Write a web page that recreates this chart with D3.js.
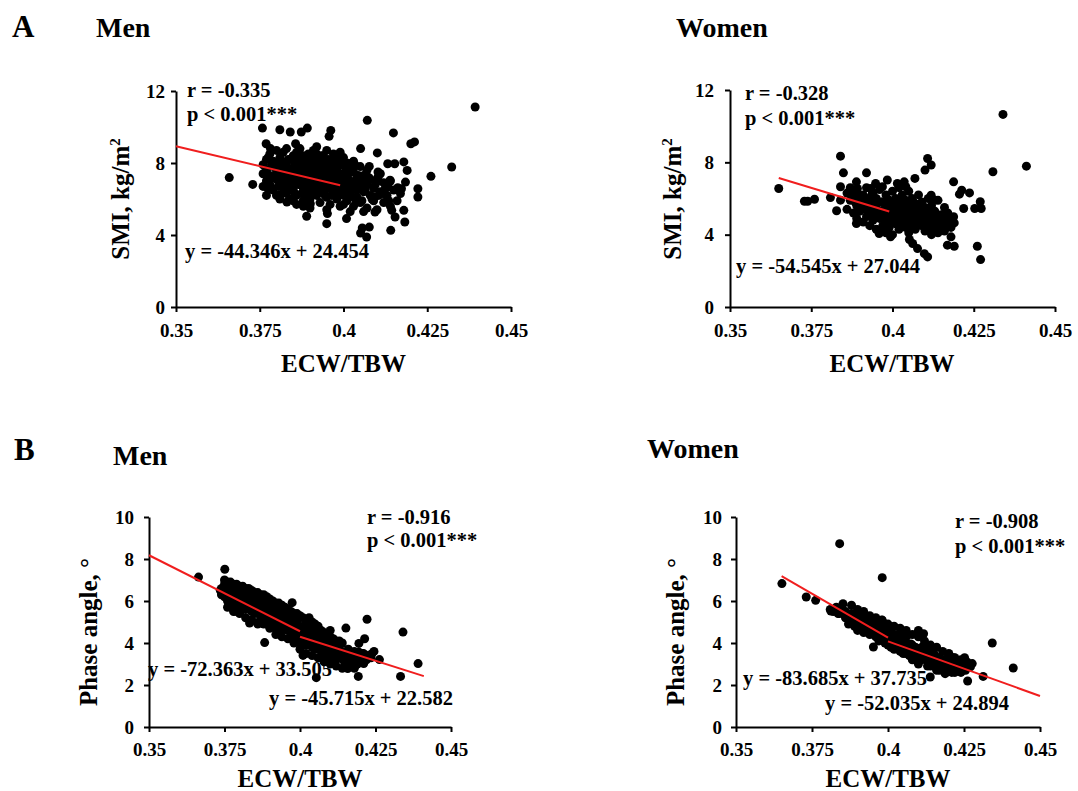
<!DOCTYPE html>
<html>
<head>
<meta charset="utf-8">
<script src="https://cdn.jsdelivr.net/npm/d3@7"></script>
<style>
  body { margin: 0; background: #fff; }
  svg { display: block; }
  text { font-family: "Liberation Serif", "Times New Roman", serif; font-weight: bold; fill: #000; }
</style>
</head>
<body>
<svg id="chart" width="1078" height="791"></svg>
<script>
// ---- data ----------------------------------------------------------------
const xTicks = [0.35, 0.375, 0.4, 0.425, 0.45];
const smiTicks = [0, 4, 8, 12];
const phaseTicks = [0, 2, 4, 6, 8, 10];

// [ECW/TBW, SMI] — men
const menSMI = [
  [0.3659,7.19],[0.3729,6.81],[0.3758,9.94],[0.381,9.85],[0.3841,9.72],[0.3874,9.72],[0.3892,9.94],[0.3957,9.48],
  [0.3962,9.81],[0.4071,10.37],[0.4149,9.67],[0.4201,9.07],[0.4212,9.17],[0.4261,7.26],[0.4323,7.78],[0.4393,11.11],
  [0.3857,9.07],[0.3769,9.07],[0.3782,8.8],[0.4051,8.8],[0.4101,8.56],[0.4132,7.96],[0.4153,7.96],[0.418,8.06],
  [0.419,7.59],[0.4185,6.94],[0.4222,6.57],[0.4222,6.11],[0.4173,6.57],[0.4144,5.37],[0.418,5.37],[0.4154,5.0],
  [0.4183,4.72],[0.4141,4.26],[0.4056,4.39],[0.4077,4.44],[0.4051,4.11],[0.4069,3.89],[0.4094,5.28],[0.4009,4.91],
  [0.395,4.63],[0.389,5.04],[0.3952,5.19],[0.3831,5.83],[0.3901,5.74],[0.381,6.24],[0.3775,6.57],[0.404,6.02],
  [0.4092,6.11],[0.4118,6.3],[0.4133,6.67],[0.4162,6.63],[0.4103,7.22],[0.4035,7.87],[0.4077,7.81],[0.4103,7.5],
  [0.4139,7.04],
  [0.376,7.9],[0.376,7.4],[0.377,8.2],[0.377,7.0],[0.377,7.6],[0.378,6.8],[0.378,8.5],[0.378,7.3],[0.379,7.8],
  [0.379,6.5],[0.379,8.1],[0.380,7.1],[0.380,7.5],[0.380,6.2],[0.381,8.3],[0.381,7.7],[0.381,6.9],[0.381,7.3],
  [0.382,8.0],[0.382,6.6],[0.382,7.2],[0.382,8.6],[0.383,7.5],[0.383,6.3],[0.383,7.9],[0.383,7.0],[0.384,8.2],
  [0.384,6.8],[0.384,7.4],[0.384,6.0],[0.385,7.7],[0.385,8.4],[0.385,7.1],[0.385,6.5],[0.386,7.9],[0.386,7.3],
  [0.386,6.2],[0.386,8.6],[0.387,6.9],[0.387,7.6],[0.387,8.1],[0.387,7.2],[0.388,6.6],[0.388,7.8],[0.388,8.4],
  [0.388,7.0],[0.388,5.9],[0.389,7.4],[0.389,6.3],[0.389,8.0],[0.389,7.7],[0.390,6.8],[0.390,7.2],[0.390,8.3],
  [0.390,6.0],[0.391,7.5],[0.391,6.5],[0.391,7.9],[0.391,7.0],[0.392,8.5],[0.392,6.2],[0.392,7.3],[0.392,6.8],
  [0.393,7.7],[0.393,5.8],[0.393,8.1],[0.393,7.1],[0.394,6.5],[0.394,7.5],[0.394,8.4],[0.394,6.9],[0.395,6.1],
  [0.395,7.8],[0.395,7.2],[0.395,8.7],[0.396,6.6],[0.396,7.4],[0.396,5.7],[0.396,8.0],[0.397,7.0],[0.397,6.3],
  [0.397,7.7],[0.397,6.8],[0.398,8.2],[0.398,6.0],[0.398,7.3],[0.398,7.6],[0.399,6.5],[0.399,7.0],[0.399,5.6],
  [0.399,7.9],[0.400,6.8],[0.400,6.2],[0.400,7.4],[0.400,8.3],[0.401,7.1],[0.401,5.9],[0.401,6.6],[0.402,7.7],
  [0.402,6.3],[0.402,7.0],[0.403,5.6],[0.403,6.8],[0.403,7.5],[0.404,6.1],[0.404,7.2],[0.404,6.5],[0.405,7.8],
  [0.405,5.8],[0.405,6.9],[0.406,6.4],[0.406,7.3],[0.407,5.5],[0.407,6.8],[0.407,7.6],[0.408,6.2],[0.408,7.1],
  [0.409,5.9],[0.409,6.6],[0.410,7.0],[0.410,5.4],[0.411,6.4],[0.411,7.4],[0.412,5.8],[0.412,6.9],[0.413,6.2],
  [0.414,5.6],[0.414,7.0],[0.415,6.5],[0.416,5.9],[0.417,6.3],
  [0.383,8.8],[0.387,8.8],[0.392,8.9],[0.380,8.7],[0.386,5.7],[0.390,5.5],[0.378,7.1],[0.381,6.0],[0.389,6.0],
  [0.393,6.4],[0.396,6.9],[0.391,8.7],[0.397,8.5],[0.394,8.0],[0.385,5.9],[0.401,8.0],[0.403,8.1],[0.399,8.6],
  [0.402,5.3],[0.388,5.6],[0.395,5.4],[0.400,5.7],[0.406,5.3],[0.376,6.7],[0.377,6.2],
  [0.3775,8.3],[0.3785,7.9],[0.3795,7.2],[0.3805,6.7],[0.3805,8.0],[0.3815,7.5],[0.3825,6.9],[0.3825,7.8],
  [0.3835,8.2],[0.3835,6.6],[0.3845,7.6],[0.3845,7.0],[0.3855,8.0],[0.3855,6.3],[0.3855,7.4],[0.3865,6.8],
  [0.3865,8.3],[0.3875,7.4],[0.3875,6.3],[0.3875,7.9],[0.3885,8.1],[0.3885,6.9],[0.3885,7.5],[0.3895,6.5],
  [0.3895,7.2],[0.3895,8.5],[0.3905,7.8],[0.3905,6.3],[0.3905,7.0],[0.3915,8.2],[0.3915,6.7],[0.3915,7.3],
  [0.3925,7.6],[0.3925,6.5],[0.3925,8.0],[0.3935,6.9],[0.3935,7.4],[0.3935,8.4],[0.3945,6.2],[0.3945,7.8],
  [0.3945,7.1],[0.3955,6.6],[0.3955,8.2],[0.3955,7.5],[0.3965,7.0],[0.3965,6.2],[0.3965,7.8],[0.3975,6.5],
  [0.3975,7.3],[0.3975,8.1],[0.3985,6.8],[0.3985,7.1],[0.3985,6.2],[0.3995,7.4],[0.3995,6.7],[0.4005,7.8],
  [0.4005,6.4],[0.4005,7.0],[0.4015,6.1],[0.4015,7.4],[0.4025,6.6],[0.4025,8.0],[0.4035,6.9],[0.4035,6.0],
  [0.4045,7.3],[0.4045,6.7],[0.4055,5.9],[0.4055,7.0],[0.4065,6.5],[0.4075,7.2],[0.4085,6.0],[0.4095,6.8],
  [0.4105,6.2],[0.4125,6.6],[0.4135,5.9]
];

// [ECW/TBW, SMI] — women
const womenSMI = [
  [0.365,6.55],[0.3729,5.85],[0.3739,5.85],[0.376,5.96],[0.3809,6.05],[0.3828,5.32],[0.384,8.34],[0.384,6.65],
  [0.3849,7.42],[0.384,5.91],[0.3889,4.62],[0.392,7.42],[0.4108,8.21],[0.4119,7.85],[0.41,7.57],[0.4069,7.11],
  [0.4188,6.92],[0.4206,6.24],[0.4213,6.46],[0.4237,6.31],[0.4219,5.45],[0.4253,5.45],[0.4273,5.45],[0.427,5.82],
  [0.4309,7.48],[0.434,10.65],[0.4412,7.79],[0.4261,3.36],[0.4271,2.62],[0.4169,3.42],[0.419,3.36],[0.418,3.88],
  [0.4188,4.99],[0.419,4.65],[0.4108,2.77],[0.4098,2.95],[0.4077,3.23],[0.4062,3.51],[0.4052,3.73],[0.3994,3.88],
  [0.3959,4.06],[0.3974,4.25],[0.4131,5.91],[0.4119,6.18],[0.4015,6.83],[0.4041,6.65],[0.4036,6.92],[0.3984,7.02],
  [0.3948,6.83],[0.3969,6.65],[0.3889,6.92],[0.3892,6.55],[0.3871,6.28],[0.3933,6.55],[0.3938,6.28],
  [0.386,6.3],[0.386,5.4],[0.387,5.9],[0.387,6.6],[0.388,5.2],[0.388,6.1],[0.389,5.6],[0.389,6.4],[0.389,4.9],
  [0.390,5.9],[0.390,5.3],[0.391,6.2],[0.391,4.7],[0.391,5.6],[0.392,5.0],[0.392,6.0],[0.392,6.6],[0.393,5.4],
  [0.393,4.5],[0.393,5.8],[0.394,6.3],[0.394,5.1],[0.394,4.8],[0.395,5.6],[0.395,6.0],[0.395,4.3],[0.396,5.3],
  [0.396,6.5],[0.396,4.9],[0.397,5.8],[0.397,4.5],[0.397,5.1],[0.398,6.2],[0.398,5.5],[0.398,4.1],[0.398,4.8],
  [0.399,5.9],[0.399,5.2],[0.399,4.4],[0.400,6.4],[0.400,5.6],[0.400,4.9],[0.400,4.0],[0.401,5.3],[0.401,6.0],
  [0.401,4.6],[0.402,5.8],[0.402,5.0],[0.402,4.3],[0.402,6.6],[0.403,5.5],[0.403,4.7],[0.403,6.2],[0.404,5.2],
  [0.404,4.4],[0.404,5.9],[0.405,4.9],[0.405,5.6],[0.405,6.4],[0.405,4.1],[0.406,5.3],[0.406,4.6],[0.406,6.0],
  [0.407,5.0],[0.407,5.7],[0.407,4.3],[0.408,5.4],[0.408,4.8],[0.408,6.2],[0.409,5.1],[0.409,4.5],[0.409,5.8],
  [0.410,4.2],[0.410,5.5],[0.410,4.9],[0.411,5.2],[0.411,4.6],[0.411,6.0],[0.412,4.0],[0.412,5.0],[0.412,5.6],
  [0.413,4.4],[0.413,5.3],[0.414,4.8],[0.414,5.9],[0.414,4.1],[0.415,5.1],[0.415,4.5],[0.416,5.5],[0.416,4.2],
  [0.417,4.8],[0.417,5.2],[0.418,4.4],[0.418,4.6],
  [0.3885,5.8],[0.3895,6.1],[0.3905,5.5],[0.3915,5.9],[0.3925,5.3],[0.3935,6.1],[0.3945,5.5],[0.3955,5.0],
  [0.3965,5.8],[0.3975,5.4],[0.3985,5.0],[0.3985,5.8],[0.3995,4.7],[0.4005,5.2],[0.4005,5.9],[0.4015,4.8],
  [0.4015,5.5],[0.4025,5.3],[0.4025,4.6],[0.4035,5.9],[0.4035,5.0],[0.4045,4.7],[0.4045,5.5],[0.4055,5.2],
  [0.4055,4.4],[0.4065,5.8],[0.4065,4.9],[0.4075,5.3],[0.4075,4.6],[0.4085,5.1],[0.4085,5.7],[0.4095,4.8],
  [0.4095,5.4],[0.4105,5.0],[0.4115,4.4],[0.4115,5.4],[0.4125,4.7],[0.4135,5.0],[0.4145,4.5],[0.4155,4.9],
  [0.4165,4.6]
];

// [ECW/TBW, phase angle] — men
const menPhase = [
  [0.3664,7.14],[0.3751,7.51],[0.3736,6.51],[0.3974,5.92],[0.3833,4.95],[0.3883,4.02],[0.401,3.41],[0.41,4.6],
  [0.4152,4.71],[0.4222,5.13],[0.4341,4.52],[0.4263,3.21],[0.4391,3.02],[0.4333,2.41],[0.4193,2.41],[0.4054,2.35],
  [0.4214,4.2],[0.4195,3.98],[0.4169,3.17],[0.4158,2.78],[0.4194,3.57],[0.4238,3.49],[0.4211,3.02],[0.3786,5.51],
  [0.3859,4.97],
  [0.374,6.6],[0.374,6.3],[0.375,6.8],[0.375,6.5],[0.375,6.2],[0.376,6.6],[0.376,6.4],[0.376,6.0],[0.377,6.7],
  [0.377,6.3],[0.377,6.1],[0.378,6.5],[0.378,6.2],[0.378,5.8],[0.379,6.6],[0.379,6.0],[0.379,6.3],[0.380,6.4],
  [0.380,5.7],[0.380,6.1],[0.381,6.5],[0.381,5.9],[0.381,6.2],[0.382,6.3],[0.382,5.6],[0.382,6.0],[0.383,6.4],
  [0.383,5.8],[0.383,6.1],[0.384,5.5],[0.384,6.0],[0.384,6.3],[0.385,5.7],[0.385,6.1],[0.385,5.4],[0.386,5.9],
  [0.386,6.2],[0.386,5.5],[0.387,5.7],[0.387,6.0],[0.387,5.2],[0.388,5.8],[0.388,5.4],[0.388,6.1],[0.389,5.6],
  [0.389,5.1],[0.389,5.9],[0.390,5.4],[0.390,5.7],[0.390,5.0],[0.391,5.5],[0.391,5.2],[0.391,5.8],[0.392,5.0],
  [0.392,5.4],[0.392,4.7],[0.393,5.6],[0.393,5.2],[0.393,4.9],[0.394,5.4],[0.394,5.0],[0.394,4.6],[0.395,5.3],
  [0.395,4.8],[0.395,5.5],[0.396,5.0],[0.396,4.6],[0.396,5.3],[0.397,4.8],[0.397,5.1],[0.397,4.4],[0.398,5.0],
  [0.398,4.6],[0.398,4.3],[0.399,4.9],[0.399,4.5],[0.399,5.1],[0.400,4.7],[0.400,4.3],[0.400,4.0],[0.401,4.8],
  [0.401,4.4],[0.401,4.1],[0.402,4.6],[0.402,4.2],[0.402,3.9],[0.403,4.5],[0.403,4.8],[0.403,4.1],[0.404,4.3],
  [0.404,3.8],[0.404,4.6],[0.405,4.0],[0.405,4.4],[0.405,3.7],[0.406,4.2],[0.406,3.9],[0.406,4.5],[0.407,3.6],
  [0.407,4.1],[0.407,3.9],[0.408,4.3],[0.408,3.7],[0.408,3.4],[0.409,4.0],[0.409,3.6],[0.410,3.8],[0.410,3.3],
  [0.410,4.1],[0.411,3.5],[0.411,3.9],[0.412,3.7],[0.412,3.2],[0.413,3.5],[0.413,3.9],[0.414,3.3],[0.414,3.6],
  [0.415,3.0],[0.415,3.5],[0.416,3.7],[0.416,3.2],[0.417,3.4],[0.417,2.9],[0.418,3.6],[0.418,3.2],[0.419,3.4],
  [0.419,3.0],[0.420,3.3],[0.421,3.5],[0.422,3.2],
  [0.375,7.0],[0.376,6.9],[0.377,6.9],[0.378,6.8],[0.379,6.8],[0.380,6.7],[0.381,6.7],[0.382,6.6],[0.383,6.6],
  [0.384,6.5],[0.385,6.4],[0.386,6.4],[0.387,6.3],[0.388,6.3],[0.389,6.2],[0.390,6.1],[0.391,6.0],[0.392,5.9],
  [0.393,5.9],[0.394,5.8],[0.395,5.7],[0.396,5.6],[0.397,5.5],[0.398,5.4],[0.399,5.4],[0.400,5.3],[0.401,5.2],
  [0.402,5.1],[0.403,5.2],[0.404,5.0],[0.405,4.9],[0.406,4.8],[0.407,4.6],[0.408,4.5],[0.409,4.4],[0.410,4.3],
  [0.411,4.2],[0.412,4.1],[0.413,4.1],[0.414,4.0],
  [0.376,5.7],[0.378,5.5],[0.380,5.4],[0.382,5.2],[0.384,5.1],[0.386,4.9],[0.388,4.9],[0.390,4.7],[0.392,4.4],
  [0.394,4.3],[0.396,4.2],[0.398,4.0],[0.400,3.7],[0.402,3.5],[0.404,3.4],[0.406,3.3],[0.408,3.1],[0.410,3.0],
  [0.412,2.9],[0.414,2.8],[0.416,2.9],[0.418,2.8],
  [0.3765,6.45],[0.3785,6.35],[0.3805,6.25],[0.3825,6.15],[0.3845,5.85],[0.3865,5.75],[0.3885,5.6],[0.3905,5.25],
  [0.3925,5.2],[0.3945,4.85],[0.3965,4.95],[0.3985,4.75],[0.4005,4.45],[0.4025,4.35],[0.4045,4.2],[0.4065,3.75],
  [0.4085,3.95],[0.4105,3.55],[0.4125,3.45],[0.4145,3.15],[0.4165,3.45],[0.4185,3.35],[0.4205,3.5],[0.4225,3.4],
  [0.4235,3.3],[0.4245,3.6]
];

// [ECW/TBW, phase angle] — women
const womenPhase = [
  [0.3651,6.83],[0.3731,6.19],[0.3762,6.03],[0.3841,8.73],[0.3981,7.11],[0.3812,5.52],[0.3836,5.4],[0.3852,5.87],
  [0.3952,3.81],[0.4343,4.0],[0.4412,2.81],[0.4313,2.41],[0.4262,2.19],[0.4252,3.3],[0.4277,3.02],[0.4271,2.86],
  [0.41,4.6],[0.4117,4.44],[0.3981,5.08],[0.4216,3.3],[0.4194,3.25],[0.4139,2.38],[0.4188,2.54],
  [0.381,5.6],[0.382,5.5],[0.383,5.7],[0.384,5.4],[0.385,5.6],[0.386,5.2],[0.386,5.5],[0.387,5.3],[0.387,4.9],
  [0.388,5.1],[0.388,5.4],[0.389,4.8],[0.389,5.2],[0.390,5.0],[0.390,4.6],[0.390,5.3],[0.391,4.8],[0.391,5.1],
  [0.392,4.5],[0.392,4.9],[0.392,5.2],[0.393,4.7],[0.393,5.0],[0.394,4.4],[0.394,4.8],[0.395,4.6],[0.395,5.0],
  [0.396,4.3],[0.396,4.7],[0.397,4.5],[0.397,4.1],[0.397,4.9],[0.398,4.3],[0.398,4.6],[0.399,4.0],[0.399,4.4],
  [0.399,4.8],[0.400,4.2],[0.400,4.5],[0.400,3.9],[0.401,4.3],[0.401,4.6],[0.402,4.0],[0.402,4.4],[0.402,3.7],
  [0.403,4.2],[0.403,3.9],[0.404,4.5],[0.404,4.0],[0.404,3.6],[0.405,4.1],[0.405,3.8],[0.406,3.5],[0.406,4.0],
  [0.406,4.3],[0.407,3.7],[0.407,3.4],[0.408,3.9],[0.408,3.6],[0.408,3.2],[0.409,3.5],[0.409,3.8],[0.410,3.3],
  [0.410,3.6],[0.410,3.0],[0.411,3.5],[0.411,3.2],[0.412,3.7],[0.412,3.4],[0.413,3.1],[0.413,3.5],[0.414,3.3],
  [0.414,2.9],[0.415,3.2],[0.415,3.5],[0.416,3.0],[0.416,2.7],[0.417,3.3],[0.417,3.0],[0.418,2.8],[0.418,3.2],
  [0.419,2.9],[0.420,3.1],[0.420,2.7],[0.421,3.3],[0.421,2.9],[0.422,2.6],[0.423,2.9],[0.424,2.6],[0.425,2.8],
  [0.388,5.8],[0.390,5.6],[0.392,5.5],[0.394,5.3],[0.396,5.2],[0.398,5.1],[0.400,4.9],[0.402,4.8],[0.404,4.7],
  [0.406,4.6],[0.408,4.4],[0.410,4.3],[0.412,4.1],[0.414,3.9],[0.416,3.8],[0.418,3.6],[0.420,3.5],[0.422,3.3],
  [0.424,3.2],[0.426,3.1],
  [0.3895,5.35],[0.3915,4.95],[0.3935,4.85],[0.3955,4.75],[0.3975,4.65],[0.3995,4.2],[0.4015,4.0],[0.4035,4.35],
  [0.4055,4.15],[0.4075,3.95],[0.4095,3.75],[0.4115,3.85],[0.4135,3.65],[0.4155,3.4],[0.4175,3.15],[0.4195,3.25],
  [0.4215,3.05],[0.4235,2.95],[0.4255,2.7],
  [0.401,3.8],[0.405,3.5],[0.409,3.2],[0.413,2.9],[0.417,2.7],[0.421,2.6]
];

// regression segments: slope, intercept and the ECW/TBW span each one covers
const menSMIFits = [{ slope: -44.346, intercept: 24.454, from: 0.35, to: 0.399 }];
const womenSMIFits = [{ slope: -54.545, intercept: 27.044, from: 0.365, to: 0.399 }];
const menPhaseFits = [
  { slope: -72.363, intercept: 33.505, from: 0.35, to: 0.4 },
  { slope: -45.715, intercept: 22.582, from: 0.4, to: 0.441 }
];
const womenPhaseFits = [
  { slope: -83.685, intercept: 37.735, from: 0.365, to: 0.4 },
  { slope: -52.035, intercept: 24.894, from: 0.4, to: 0.45 }
];

const correlations = { menSMI: "-0.335", womenSMI: "-0.328", menPhase: "-0.916", womenPhase: "-0.908" };
const pText = "p < 0.001***";

// ---- layout --------------------------------------------------------------
const panels = [
  { points: menSMI, fits: menSMIFits, r: correlations.menSMI, yTicks: smiTicks, yMax: 12, yLabel: "smi",
    title: "Men", titlePos: [96, 37], letter: "A", letterPos: [12, 37],
    left: 176, right: 511, bottom: 307, top: 91, yPad: 6, xPad: 12,
    rPos: [187, 97], pPos: [187, 121], eqPos: [[185, 258]],
    yLabelPos: [129, 199], xLabelPos: [343.5, 372] },
  { points: womenSMI, fits: womenSMIFits, r: correlations.womenSMI, yTicks: smiTicks, yMax: 12, yLabel: "smi",
    title: "Women", titlePos: [676, 37],
    left: 730, right: 1055, bottom: 307, top: 90, yPad: 11, xPad: 12,
    rPos: [745, 100], pPos: [745, 125], eqPos: [[736, 273]],
    yLabelPos: [681, 199], xLabelPos: [892, 372] },
  { points: menPhase, fits: menPhaseFits, r: correlations.menPhase, yTicks: phaseTicks, yMax: 10, yLabel: "phase",
    title: "Men", titlePos: [113, 465], letter: "B", letterPos: [14, 460],
    left: 149, right: 451, bottom: 727, top: 517, yPad: 10, xPad: 11,
    rPos: [367, 524], pPos: [367, 547], eqPos: [[148, 676], [269, 705]],
    yLabelPos: [97, 632], xLabelPos: [300, 787] },
  { points: womenPhase, fits: womenPhaseFits, r: correlations.womenPhase, yTicks: phaseTicks, yMax: 10, yLabel: "phase",
    title: "Women", titlePos: [647, 458],
    left: 736, right: 1040, bottom: 727, top: 517, yPad: 9, xPad: 11,
    rPos: [955, 528], pPos: [955, 553], eqPos: [[743, 685], [825, 710]],
    yLabelPos: [684, 632], xLabelPos: [888, 787] }
];

const svg = d3.select("#chart");
svg.append("rect").attr("width", 1078).attr("height", 791).attr("fill", "#fff");

panels.forEach(p => {
  const x = d3.scaleLinear().domain([0.35, 0.45]).range([p.left, p.right]);
  const y = d3.scaleLinear().domain([0, p.yMax]).range([p.bottom, p.top]);
  const g = svg.append("g");

  // axes
  const xAxis = g.append("g").attr("transform", `translate(0,${p.bottom})`)
    .call(d3.axisBottom(x).tickValues(xTicks).tickFormat(d => String(d))
      .tickSize(5).tickSizeOuter(0).tickPadding(p.xPad));
  const yAxis = g.append("g").attr("transform", `translate(${p.left},0)`)
    .call(d3.axisLeft(y).tickValues(p.yTicks).tickFormat(d => String(d))
      .tickSize(5).tickSizeOuter(0).tickPadding(p.yPad));
  [xAxis, yAxis].forEach(a => {
    a.select(".domain").attr("stroke", "#000").attr("stroke-width", 2);
    a.selectAll(".tick line").attr("stroke", "#000").attr("stroke-width", 2);
    a.selectAll(".tick text").attr("font-size", 19).attr("fill", "#000")
      .style("font-family", '"Liberation Serif", "Times New Roman", serif').style("font-weight", "bold");
  });

  // scatter points
  g.append("g").selectAll("circle").data(p.points).join("circle")
    .attr("cx", d => x(d[0])).attr("cy", d => y(d[1])).attr("r", 4.5).attr("fill", "#000");

  // regression lines
  g.append("g").selectAll("line").data(p.fits).join("line")
    .attr("x1", d => x(d.from)).attr("y1", d => y(d.slope * d.from + d.intercept))
    .attr("x2", d => x(d.to)).attr("y2", d => y(d.slope * d.to + d.intercept))
    .attr("stroke", "#f01e1e").attr("stroke-width", 2);

  // statistics
  g.append("text").attr("x", p.rPos[0]).attr("y", p.rPos[1]).attr("font-size", 20.5).text(`r = ${p.r}`);
  g.append("text").attr("x", p.pPos[0]).attr("y", p.pPos[1]).attr("font-size", 20.5).text(pText);
  p.fits.forEach((f, i) => {
    g.append("text").attr("x", p.eqPos[i][0]).attr("y", p.eqPos[i][1]).attr("font-size", 20.5)
      .text(`y = ${f.slope}x + ${f.intercept}`);
  });

  // axis titles
  g.append("text").attr("x", p.xLabelPos[0]).attr("y", p.xLabelPos[1])
    .attr("text-anchor", "middle").attr("font-size", 25).text("ECW/TBW");
  const yt = g.append("text").attr("text-anchor", "middle").attr("font-size", 25)
    .attr("transform", `translate(${p.yLabelPos[0]},${p.yLabelPos[1]}) rotate(-90)`);
  if (p.yLabel === "smi") {
    yt.append("tspan").text("SMI, kg/m");
    yt.append("tspan").attr("font-size", 15).attr("dy", -9).text("2");
  } else {
    yt.append("tspan").text("Phase angle, ");
    yt.append("tspan").text("°");
  }

  // panel headings
  g.append("text").attr("x", p.titlePos[0]).attr("y", p.titlePos[1]).attr("font-size", 28).text(p.title);
  if (p.letter) {
    g.append("text").attr("x", p.letterPos[0]).attr("y", p.letterPos[1]).attr("font-size", 31).text(p.letter);
  }
});
</script>
</body>
</html>
